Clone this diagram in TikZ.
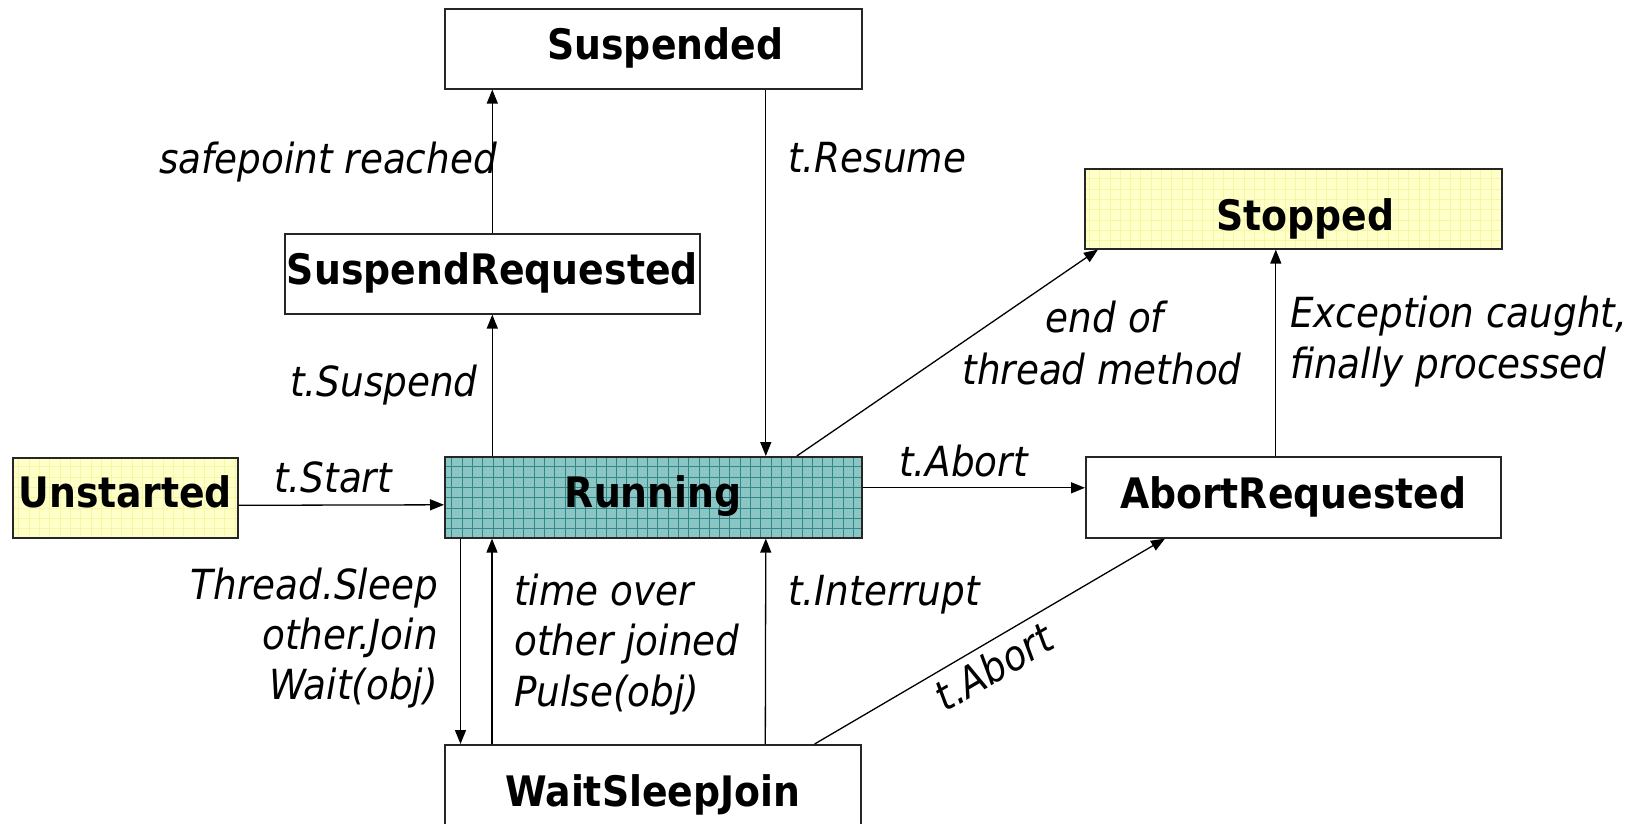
\documentclass[tikz,border=0pt]{standalone}
\usepackage{fontspec}
\setmainfont{DejaVu Sans Condensed}[BoldFont={DejaVu Sans Condensed Bold},ItalicFont={DejaVu Sans Condensed Oblique}]
\usetikzlibrary{arrows.meta}
\definecolor{tealbase}{RGB}{140,198,196}
\definecolor{tealgrid}{RGB}{48,136,136}
\definecolor{paleyellow}{RGB}{255,255,200}
\definecolor{yellowgrid}{RGB}{246,246,168}
\begin{document}
\begin{tikzpicture}[x=1pt,y=-1pt,
  state/.style={draw=black!85, line width=1.6pt, anchor=north west,
    font=\fontsize{42pt}{51pt}\selectfont\bfseries,
    minimum width=417pt, minimum height=80pt, inner sep=0pt,
    text height=22pt, text depth=0pt},
  gridfill/.style 2 args={fill=#1, path picture={
    \draw[#2, line width=0.6pt, step=10.3pt]
      (path picture bounding box.south west) grid (path picture bounding box.north east);}},
  lbl/.style={font=\fontsize{41.5pt}{51pt}\selectfont\itshape, inner sep=0pt},
  arr/.style={line width=1.3pt, -{Triangle[length=14pt,width=11pt]}}
]
\useasboundingbox (0,0) rectangle (1636,824);

% states
\node[state] (susp) at (444,8) {\hspace*{24pt}Suspended};
\node[state, minimum width=415pt] (sreq) at (284,233) {SuspendRequested};
\node[state, minimum height=81pt, text height=21pt, gridfill={tealbase}{tealgrid}] (run) at (444,456) {Running};
\node[state, minimum width=225pt, text height=20pt, gridfill={paleyellow}{yellowgrid}] (unst) at (12,457) {Unstarted};
\node[state, text height=42.8pt, gridfill={paleyellow}{yellowgrid}] (stop) at (1084,168) {\hspace*{24pt}Stopped};
\node[state, minimum width=415pt, minimum height=81pt] (abrt) at (1085,456) {AbortRequested};
\node[state, minimum width=416pt, minimum height=82pt, text height=40.8pt] (wsj) at (444,744) {WaitSleepJoin};

% transitions
\draw[arr] ([yshift=-7.5pt]unst.east) -- ([yshift=-7.5pt]run.west);
\draw[arr] (sreq.south |- run.north) -- (sreq.south);
\draw[arr] (sreq.north) -- (sreq.north |- susp.south);
\draw[arr] ([xshift=112.5pt]susp.south) -- ([xshift=112.5pt]run.north);
\draw[arr] ([xshift=143.5pt]run.north) -- ([xshift=14pt]stop.south west);
\draw[arr] ([yshift=9.5pt]run.east) -- ([yshift=9.5pt]abrt.west);
\draw[arr] ([xshift=-17.5pt]abrt.north) -- ([xshift=-17.5pt]abrt.north |- stop.south);
\draw[arr] ([xshift=16.5pt]run.south west) -- ([xshift=16.5pt]wsj.north west);
\draw[arr] ([xshift=48pt]wsj.north west) -- ([xshift=48pt]run.south west);
\draw[arr] ([xshift=112.5pt]wsj.north) -- ([xshift=112.5pt]run.south);
\draw[arr] ([xshift=-47pt]wsj.north east) -- ([xshift=80pt]abrt.south west)
  node[lbl, pos=0.476, sloped, anchor=north, inner sep=7pt] (labort2) {t.Abort};

% transition labels
\node[lbl, anchor=base east] (lsafe) at (497,173) {safepoint reached};
\node[lbl, anchor=base west] (lres) at (788,172) {t.Resume};
\node[lbl, anchor=base west] (lsus) at (290,396) {t.Suspend};
\node[lbl, anchor=base west] (lstart) at (274,492) {t.Start};
\node[lbl, anchor=base] (lend1) at (1105,332) {end of};
\node[lbl, anchor=base] (lend2) at (1102,384) {thread method};
\node[lbl, anchor=base west] (lexc1) at (1290,327) {Exception caught,};
\node[lbl, anchor=base west] (lexc2) at (1290,378) {finally processed};
\node[lbl, anchor=base west] (labort) at (899,476) {t.Abort};
\node[lbl, anchor=base east] (lwait1) at (438,599) {Thread.Sleep};
\node[lbl, anchor=base east] (lwait2) at (438,649) {other.Join};
\node[lbl, anchor=base east] (lwait3) at (438,699) {Wait(obj)};
\node[lbl, anchor=base west] (lback1) at (514,605) {time over};
\node[lbl, anchor=base west] (lback2) at (514,655) {other joined};
\node[lbl, anchor=base west] (lback3) at (514,706) {Pulse(obj)};
\node[lbl, anchor=base west] (lint) at (788,605) {t.Interrupt};
\end{tikzpicture}
\end{document}
